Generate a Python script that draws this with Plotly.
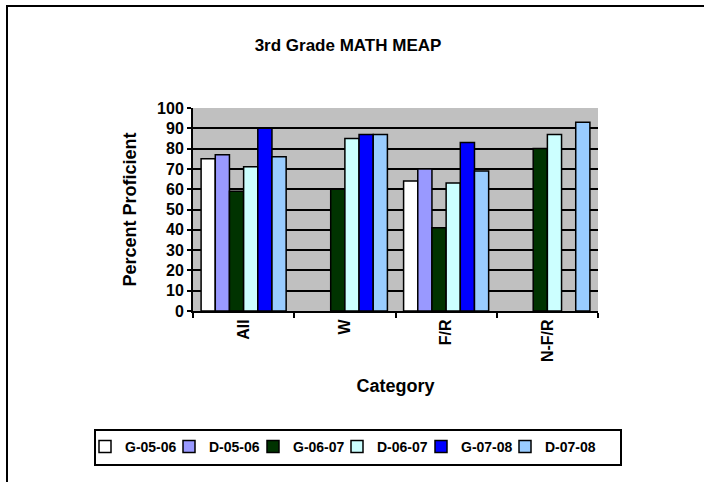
import plotly.graph_objects as go

categories = ["All", "W", "F/R", "N-F/R"]
series_names = ["G-05-06", "D-05-06", "G-06-07", "D-06-07", "G-07-08", "D-07-08"]
g_05_06 = [75, None, 64, None]
d_05_06 = [77, None, 70, None]
g_06_07 = [59, 60, 41, 80]
d_06_07 = [71, 85, 63, 87]
g_07_08 = [90, 87, 83, None]
d_07_08 = [76, 87, 69, 93]
y_ticks = [0, 10, 20, 30, 40, 50, 60, 70, 80, 90, 100]

series_values = [g_05_06, d_05_06, g_06_07, d_06_07, g_07_08, d_07_08]
colors = ["#FFFFFF", "#9999FF", "#003300", "#CCFFFF", "#0000FF", "#99CCFF"]

FONT = "Arial, 'Liberation Sans', sans-serif"

W, H = 704, 482
left, right, top, bottom = 193, 106, 108, 171
pw = W - left - right
ph = H - top - bottom

def px_x(x):
    return (x - left) / pw

def px_y(y):
    return (H - bottom - y) / ph

# legend entry text start positions (px) along the legend row
legend_text_x = [126, 210, 294, 378, 462, 546]

fig = go.Figure()
legend_layouts = {}
for i, (name, vals, col) in enumerate(zip(series_names, series_values, colors)):
    lname = "legend" if i == 0 else f"legend{i + 1}"
    fig.add_trace(go.Bar(
        x=categories, y=vals, name=f"<b>{name}</b>", legend=lname, showlegend=True,
        marker=dict(color=col, line=dict(color="black", width=1.5)),
    ))
    legend_layouts[lname] = dict(
        orientation="h", x=px_x(legend_text_x[i] - 41), xanchor="left",
        y=px_y(447), yanchor="middle",
        borderwidth=0, bgcolor="rgba(0,0,0,0)",
        font=dict(size=14, family=FONT), itemwidth=30, visible=True,
    )

fig.update_layout(
    width=W, height=H, showlegend=True,
    barmode="group", bargap=0.16, bargroupgap=0.0,
    paper_bgcolor="white", plot_bgcolor="#C0C0C0",
    margin=dict(l=left, r=right, t=top, b=bottom, pad=0, autoexpand=False),
    font=dict(family=FONT, color="black", size=16),
    title=dict(text="<b>3rd Grade MATH MEAP</b>", x=px_x(348), xref="paper",
               xanchor="center", y=1 - 45 / H, yanchor="middle",
               font=dict(size=17, family=FONT)),
    xaxis=dict(
        showline=True, linecolor="black", linewidth=2,
        ticks="outside", tickson="boundaries", ticklen=5, tickwidth=2, tickcolor="black",
        tickangle=-90, tickfont=dict(size=16, family=FONT),
        tickvals=categories, ticktext=[f"<b>{c}</b>" for c in categories],
        title=dict(text="<b>Category</b>", font=dict(size=18, family=FONT), standoff=18),
        showgrid=False,
    ),
    yaxis=dict(
        range=[0, 100], tickvals=y_ticks,
        ticktext=[f"<b>{v}</b>" for v in y_ticks],
        showline=True, linecolor="black", linewidth=2,
        ticks="outside", ticklen=4, tickwidth=2, tickcolor="black",
        showgrid=True, gridcolor="black", gridwidth=2,
        tickfont=dict(size=16, family=FONT),
        title=dict(text="<b>Percent Proficient</b>", font=dict(size=18, family=FONT), standoff=16),
        zeroline=False,
    ),
    **legend_layouts,
)

# legend frame
fig.add_shape(type="rect", xref="paper", yref="paper",
              x0=px_x(95), x1=px_x(621), y0=px_y(430), y1=px_y(465),
              line=dict(color="black", width=2), fillcolor="rgba(0,0,0,0)", layer="below")

# outer chart frame (top and left edges)
fig.add_shape(type="line", xref="paper", yref="paper",
              x0=px_x(6), x1=px_x(704), y0=px_y(6), y1=px_y(6),
              line=dict(color="black", width=2))
fig.add_shape(type="line", xref="paper", yref="paper",
              x0=px_x(7), x1=px_x(7), y0=px_y(6), y1=px_y(482),
              line=dict(color="black", width=2))

fig.write_html("out.html", config={"displayModeBar": False},
               post_script="document.body.style.margin='0px';")
